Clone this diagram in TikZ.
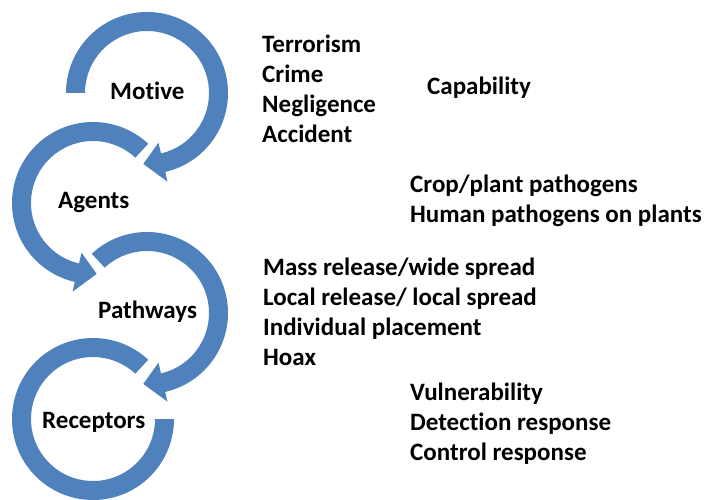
\documentclass[tikz,border=0pt]{standalone}
\usepackage{fontspec}
\setmainfont[Ligatures={NoCommon}]{Carlito}
\definecolor{ringblue}{RGB}{79,129,189}
\tikzset{
  lbl/.style={anchor=base west, inner sep=0pt, font=\fontsize{25}{29}\selectfont\bfseries, text=black},
  ring/.style={fill=ringblue, draw=none}
}
\begin{document}
\begin{tikzpicture}[x=1pt,y=1pt]
\useasboundingbox (0,0) rectangle (704,499);
% Motive ring (clockwise, arrow)
\begin{scope}[shift={(147,406)}]
\fill[ring] (180:81) arc[start angle=180, end angle=-77, radius=81] -- (-77:91) -- (-93:71) -- (-77:51) -- (-77:62) arc[start angle=-77, end angle=180, radius=62] -- cycle;
\end{scope}
% Agents ring (counter-clockwise, arrow)
\begin{scope}[shift={(93,296)}]
\fill[ring] (47:81) arc[start angle=47, end angle=257, radius=81] -- (257:91) -- (273:71) -- (257:51) -- (257:62) arc[start angle=257, end angle=47, radius=62] -- cycle;
\end{scope}
% Pathways ring (clockwise, arrow)
\begin{scope}[shift={(147,186)}]
\fill[ring] (133:81) arc[start angle=133, end angle=-77, radius=81] -- (-77:91) -- (-93:71) -- (-77:51) -- (-77:62) arc[start angle=-77, end angle=133, radius=62] -- cycle;
\end{scope}
% Receptors ring (counter-clockwise, no arrow)
\begin{scope}[shift={(93,80)}]
\fill[ring] (47:81) arc[start angle=47, end angle=360, radius=81] -- (0:62) arc[start angle=360, end angle=47, radius=62] -- cycle;
\end{scope}
% ring labels
\node[lbl] (motive) at (110,399) {Motive};
\node[lbl] (agents) at (58,291) {Agents};
\node[lbl] (pathways) at (98,181) {Pathways};
\node[lbl] (receptors) at (42,71) {Receptors};
% lists
\node[lbl] (t1) at (262,446) {Terrorism};
\node[lbl] (t2) at (262,416) {Crime};
\node[lbl] (t3) at (262,386) {Negligence};
\node[lbl] (t4) at (262,356) {Accident};
\node[lbl] (cap) at (427,404) {Capability};
\node[lbl] (a1) at (410,307) {Crop/plant pathogens};
\node[lbl] (a2) at (410,277) {Human pathogens on plants};
\node[lbl] (p1) at (263,224) {Mass release/wide spread};
\node[lbl] (p2) at (263,194) {Local release/ local spread};
\node[lbl] (p3) at (263,164) {Individual placement};
\node[lbl] (p4) at (263,134) {Hoax};
\node[lbl] (r1) at (410,99) {Vulnerability};
\node[lbl] (r2) at (410,69) {Detection response};
\node[lbl] (r3) at (410,39) {Control response};
\end{tikzpicture}
\end{document}
